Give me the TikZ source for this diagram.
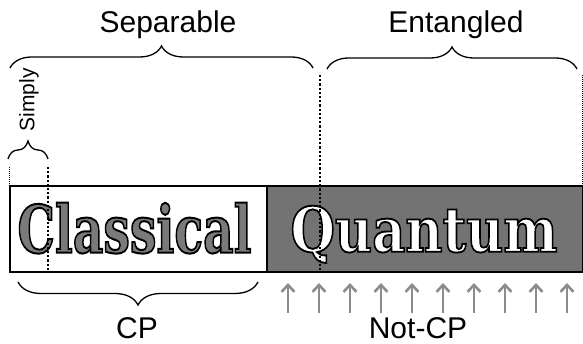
\documentclass[tikz,border=0pt]{standalone}
\usepackage{fontspec}
\setmainfont{Liberation Sans}
\newfontfamily\slabfont{DejaVu Serif}
\usepackage{tikz}
\usetikzlibrary{decorations.pathreplacing,arrows.meta}

\definecolor{qgray}{HTML}{737373}
\definecolor{cgray}{HTML}{7A7A7A}
\definecolor{agray}{HTML}{8C8C8C}

% filled letters with a black stroke round them
\newcommand{\bigword}[4]{\resizebox{#2}{#3}{\color{#1}\special{pdf:literal direct 0 G 2 Tr 0.3 w}\slabfont\bfseries #4\special{pdf:literal direct 0 Tr}}}

\tikzset{
  part/.style={draw,line width=1.6pt,minimum height=86pt,anchor=south west,inner sep=0pt},
  brc/.style={decorate,decoration={brace,amplitude=#1},line width=1.3pt},
  lbl/.style={font=\fontsize{30}{30}\selectfont,anchor=base,inner sep=0pt},
  thindot/.style={densely dotted,line width=1pt},
  thickdot/.style={dotted,line width=2.2pt},
  arr/.style={-{Straight Barb[length=7pt,width=13pt]},agray,line width=2.6pt}
}

\begin{document}
\begin{tikzpicture}[x=1pt,y=1pt]
\useasboundingbox (0,0) rectangle (583,344);

% the two halves of the bar
\node[part,fill=white,minimum width=257pt] (cl) at (9,71) {};
\node[part,fill=qgray,minimum width=316pt] (qu) at (266,71) {};
\node[anchor=base,inner sep=0pt] (cltxt) at (134.5,91.3) {\bigword{cgray}{234pt}{50pt}{Classical}};
\node[anchor=base,inner sep=0pt] (qutxt) at (424,92.3) {\bigword{white}{267pt}{46pt}{Quantum}};

% dotted borders
\coordinate (s0) at (9,177);
\coordinate (s1) at (48,177);
\coordinate (e0) at (320,269);
\coordinate (e1) at (582,269);
\draw[thindot] (s0) -- (s0 |- cl.south);
\draw[thickdot] (s1) -- (s1 |- cl.south);
\draw[thickdot] (e0) -- (e0 |- qu.south);
\draw[thindot] (e1) -- (e1 |- qu.north);

% braces on top
\draw[brc=18pt] (8,185) -- (48,185);
\node[lbl,font=\fontsize{21}{21}\selectfont,rotate=90,anchor=center] (simply) at (29,244) {Simply};
\draw[brc=22pt] (10,276) -- (313,276);
\node[lbl] (sep) at (168,311.7) {Separable};
\draw[brc=22pt] (327,275) -- (577,275);
\node[lbl] (ent) at (456,311.7) {Entangled};

% below the bar
\draw[brc=23pt,decoration={mirror}] (18,62) -- (258,62);
\node[lbl] (cp) at (137,5) {CP};
\foreach \i in {0,...,9}
  \draw[arr] (288+31*\i,31) -- ++(0,30);
\node[lbl] (ncp) at (418,5) {Not-CP};
\end{tikzpicture}
\end{document}
